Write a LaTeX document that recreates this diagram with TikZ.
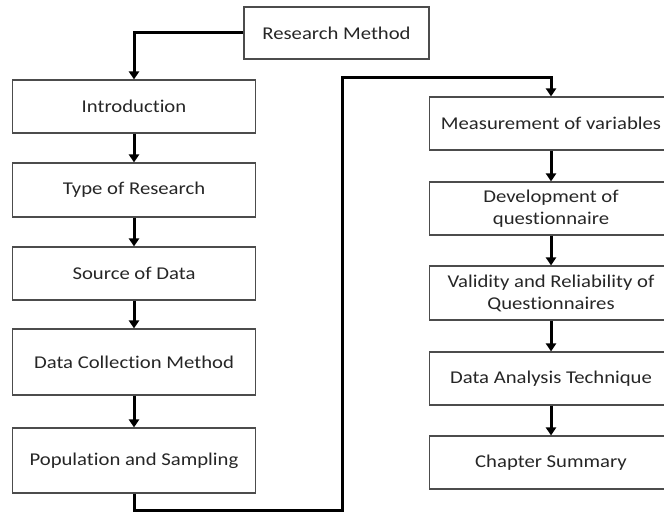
\documentclass[tikz,border=0pt]{standalone}
\usepackage{fontspec}
\setmainfont[FakeStretch=1.15, Ligatures=NoCommon]{Carlito}
\usetikzlibrary{positioning, arrows.meta}
\tikzset{
  stage/.style={draw=black!70, line width=1.1pt, rectangle, minimum width=243pt,
    text=black!85, align=center, font=\fontsize{18}{22}\selectfont},
  flow/.style={line width=3pt, -{Triangle[length=8pt, width=10pt]}},
}

\begin{document}
\begin{tikzpicture}[x=1pt, y=-1pt]
  \useasboundingbox (0,0) rectangle (664,513);
  \clip (0,0) rectangle (664,513);

  % top box
  \node[stage, minimum width=185pt, minimum height=52pt] (rm) at (336.5,33) {Research Method};

  % left column
  \node[stage, minimum height=53pt] (intro) at (134,106.5) {Introduction};
  \node[stage, minimum height=54pt] (type) at (134,190) {Type of Research};
  \node[stage, minimum height=53pt] (source) at (134,273.5) {Source of Data};
  \node[stage, minimum height=66pt] (collect) at (134,362) {Data Collection Method};
  \node[stage, minimum height=65pt] (pop) at (134,460.5) {Population and Sampling};

  % right column
  \node[stage, minimum height=53pt] (meas) at (551,123.5) {Measurement of variables};
  \node[stage, minimum height=53pt] (dev) at (551,208.5) {Development of\\questionnaire};
  \node[stage, minimum height=54pt] (valid) at (551,293) {Validity and Reliability of\\Questionnaires};
  \node[stage, minimum height=53pt] (analysis) at (551,378.5) {Data Analysis Technique};
  \node[stage, minimum height=53pt] (summary) at (551,462.5) {Chapter Summary};

  \coordinate (low) at (342,510);
  \coordinate (high) at (342,78);

  \draw[flow] (rm.west) -| (intro.north);
  \draw[flow] (intro) -- (type);
  \draw[flow] (type) -- (source);
  \draw[flow] (source) -- (collect);
  \draw[flow] (collect) -- (pop);
  \draw[flow] (pop.south) |- (low) -- (high) -| (meas.north);
  \draw[flow] (meas) -- (dev);
  \draw[flow] (dev) -- (valid);
  \draw[flow] (valid) -- (analysis);
  \draw[flow] (analysis) -- (summary);

\end{tikzpicture}
\end{document}
